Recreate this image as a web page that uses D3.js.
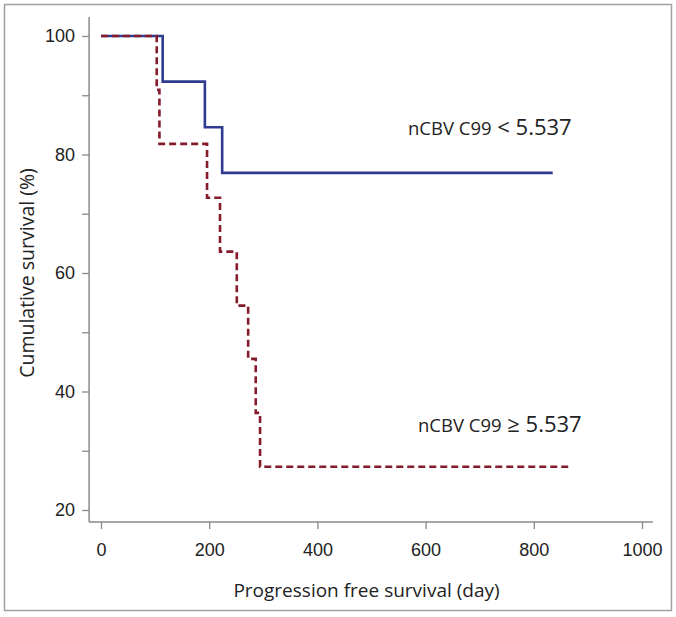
<!DOCTYPE html>
<html>
<head>
<meta charset="utf-8">
<script src="https://cdn.jsdelivr.net/npm/d3@7"></script>
<style>
  html, body { margin: 0; padding: 0; background: #fff; }
  svg { display: block; font-family: "Open Sans", "Noto Sans", sans-serif; }
</style>
</head>
<body>
<svg id="chart" width="676" height="617"></svg>
<script>
// ---- data ----
const xTicks = [0, 200, 400, 600, 800, 1000];
const yTicks = [20, 30, 40, 50, 60, 70, 80, 90, 100];
const yTickLabels = [20, 40, 60, 80, 100];

const lowGroupDays = [0, 114, 192, 224, 835];
const lowGroupSurvival = [100, 92.3, 84.6, 76.9, 76.9];

const highGroupDays = [0, 103, 108, 196, 220, 251, 272, 286, 294, 870];
const highGroupSurvival = [100, 90.9, 81.8, 72.7, 63.6, 54.5, 45.5, 36.4, 27.3, 27.3];

const lowLabel = ["nCBV C99", " < 5.537"];
const highLabel = ["nCBV C99", " \u2265 5.537"];
const xTitle = "Progression free survival (day)";
const yTitle = "Cumulative survival (%)";

// ---- drawing ----
const svg = d3.select("#chart");
const axisColor = "#8a8a8a";
const textColor = "#222";

svg.append("rect")
  .attr("x", 4.5).attr("y", 4.5).attr("width", 667).attr("height", 606)
  .attr("fill", "none").attr("stroke", "#a0a0a0").attr("stroke-width", 1.5);

const x = d3.scaleLinear().domain([0, 1000]).range([101, 642]);
const y = d3.scaleLinear().domain([20, 100]).range([510, 36]);

const xAxisY = y(17.97);
const yAxisX = x(-22);

// axis lines
svg.append("line")
  .attr("x1", yAxisX).attr("x2", yAxisX)
  .attr("y1", y(103.2)).attr("y2", xAxisY)
  .attr("stroke", axisColor).attr("stroke-width", 1.5);
svg.append("line")
  .attr("x1", yAxisX).attr("x2", x(1020))
  .attr("y1", xAxisY).attr("y2", xAxisY)
  .attr("stroke", axisColor).attr("stroke-width", 1.5);

// x axis
const gx = svg.append("g")
  .attr("transform", `translate(0,${xAxisY})`)
  .call(d3.axisBottom(x).tickValues(xTicks).tickSize(7).tickPadding(14).tickFormat(d3.format("d")));
gx.select(".domain").remove();
gx.selectAll(".tick line").attr("stroke", axisColor).attr("stroke-width", 1.3);
gx.selectAll(".tick text").attr("fill", textColor).style("font-size", "18px").style("font-family", "inherit");

// y axis
const gy = svg.append("g")
  .attr("transform", `translate(${yAxisX},0)`)
  .call(d3.axisLeft(y).tickValues(yTicks).tickSize(7).tickPadding(7)
    .tickFormat(d => yTickLabels.includes(d) ? d : ""));
gy.select(".domain").remove();
gy.selectAll(".tick line").attr("stroke", axisColor).attr("stroke-width", 1.3);
gy.selectAll(".tick text").attr("fill", textColor).style("font-size", "18px").style("font-family", "inherit");

// titles
svg.append("text")
  .attr("x", (x(0) + x(1000)) / 2 - 5).attr("y", 597)
  .attr("text-anchor", "middle").attr("fill", textColor)
  .style("font-size", "19px").text(xTitle);
svg.append("text")
  .attr("transform", `translate(34,${(y(20) + y(100)) / 2}) rotate(-90)`)
  .attr("text-anchor", "middle").attr("fill", textColor)
  .style("font-size", "19.5px").text(yTitle);

// curves
const line = d3.line().curve(d3.curveStepAfter);
const lowPts = lowGroupDays.map((d, i) => [x(d), y(lowGroupSurvival[i])]);
const highPts = highGroupDays.map((d, i) => [x(d), y(highGroupSurvival[i])]);

svg.append("path").attr("d", line(lowPts))
  .attr("fill", "none").attr("stroke", "#2f3b8f").attr("stroke-width", 2.6);
svg.append("path").attr("d", line(highPts))
  .attr("fill", "none").attr("stroke", "#851c2c").attr("stroke-width", 2.6)
  .attr("stroke-dasharray", "7,4");

// annotations
function label(parts, xPos, yPos) {
  const t = svg.append("text").attr("x", xPos).attr("y", yPos).attr("fill", textColor);
  t.append("tspan").style("font-size", "18.5px").text(parts[0]);
  t.append("tspan").style("font-size", "22px").text(parts[1]);
}
label(lowLabel, 408, 135);
label(highLabel, 418, 432);
</script>
</body>
</html>
